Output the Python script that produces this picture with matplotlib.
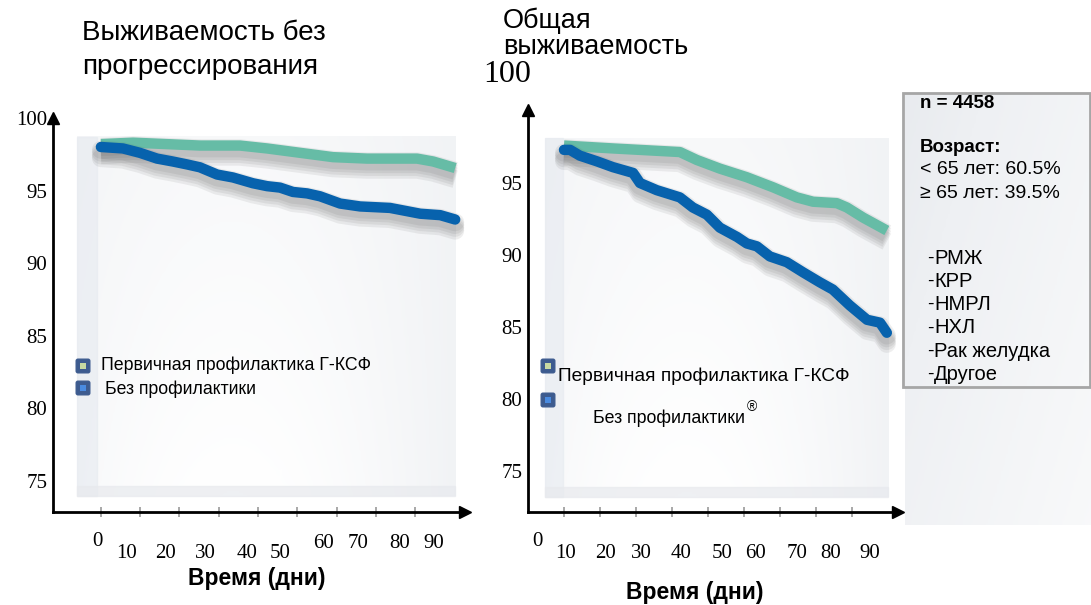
import numpy as np
import matplotlib
matplotlib.use("Agg")
import matplotlib.pyplot as plt
import matplotlib.patheffects as pe
from matplotlib.patches import Rectangle, FancyBboxPatch
from matplotlib.colors import LinearSegmentedColormap

plt.rcParams['font.family'] = ['Liberation Sans', 'DejaVu Sans']
SERIF = ['Liberation Serif', 'DejaVu Serif']

# progression-free survival, %
pfs_days_gcsf = [0, 8.2, 25.2, 35.4, 42.3, 50.7, 59.1, 67.8, 80.5, 84.6, 90.2]
pfs_gcsf = [98.2, 98.3, 98.1, 98.1, 97.9, 97.6, 97.3, 97.2, 97.2, 97.0, 96.55]
pfs_days_none = [0, 5.6, 9.9, 14.3, 18.3, 21.9, 25.2, 29.6, 33.6, 38.7, 42.3,
                 45.6, 48.9, 52.5, 55.8, 60.9, 66.0, 73.6, 81.3, 86.4, 90.2]
pfs_none = [98.0, 97.9, 97.6, 97.2, 97.0, 96.8, 96.6, 96.1, 95.9, 95.5, 95.3,
            95.2, 94.9, 94.8, 94.6, 94.1, 93.9, 93.8, 93.4, 93.3, 93.0]

# overall survival, %
os_days_gcsf = [0, 13.6, 32.2, 36.9, 43.3, 50.8, 58.1, 64.7, 69.2, 75.8, 78.6, 83.1, 89.7]
os_gcsf = [97.6, 97.4, 97.15, 96.6, 96.0, 95.4, 94.7, 94.0, 93.7, 93.6, 93.3, 92.6, 91.7]
os_days_none = [0, 1.7, 4.4, 9.2, 13.6, 19.2, 21.1, 25.8, 32.2, 35.8, 39.7, 43.3,
                48.1, 50.8, 53.6, 57.2, 61.9, 66.4, 71.1, 74.7, 79.4, 84.2, 87.8, 89.7]
os_none = [97.3, 97.3, 96.9, 96.5, 96.1, 95.7, 95.0, 94.5, 94.0, 93.3, 92.8, 91.9,
           91.25, 90.8, 90.6, 89.9, 89.5, 88.8, 88.1, 87.6, 86.5, 85.5, 85.3, 84.6]

pfs_yticks = [100, 95, 90, 85, 80, 75]
os_yticks = [95, 90, 85, 80, 75]
x_ticks = [0, 10, 20, 30, 40, 50, 60, 70, 80]
x_labels = ['0', '10', '20', '30', '40', '50', '60', '70', '80', '90']

legend_gcsf = 'Первичная профилактика Г-КСФ'
legend_none = 'Без профилактики'
info_head = ['n = 4458', 'Возраст:']
info_age = ['< 65 лет: 60.5%', '≥ 65 лет: 39.5%']
tumours = ['РМЖ', 'КРР', 'НМРЛ', 'НХЛ', 'Рак желудка', 'Другое']

TEAL = '#66bca6'
BLUE = '#0762ad'

W, H = 1091, 605
fig = plt.figure(figsize=(W / 100, H / 100), dpi=100)
fig.patch.set_facecolor('white')


def px_layer(z):
    a = fig.add_axes([0, 0, 1, 1], zorder=z)
    a.set_xlim(0, W)
    a.set_ylim(H, 0)
    a.axis('off')
    a.patch.set_alpha(0)
    return a


# pixel-space layers: one below the charts, one above them
bg = px_layer(0)
top = px_layer(10)

glass = LinearSegmentedColormap.from_list('glass', ['#d3d8df', '#eef0f3', '#ffffff'])


def px_axes(x0, y0, x1, y1):
    a = fig.add_axes([x0 / W, 1 - y1 / H, (x1 - x0) / W, (y1 - y0) / H], zorder=2)
    a.patch.set_alpha(0)
    return a


def shadowed():
    return [pe.SimpleLineShadow(offset=(0, -d), shadow_color='#444', alpha=0.085, linewidth=13)
            for d in (2, 4, 6, 8)] + [pe.Normal()]


def panel(ax, x0, x1, y0, y1):
    gx = np.linspace(0, 1, 200)
    gy = np.linspace(0, 1, 200)
    gxx, gyy = np.meshgrid(gx, gy)
    grad = 0.6 + 0.4 * np.clip(np.sin(np.pi * (0.15 + 0.85 * gxx)) * (0.45 + 0.55 * gyy), 0, 1)
    ax.imshow(grad, cmap=glass, vmin=0, vmax=1, extent=[x0, x1, y0, y1],
              aspect='auto', zorder=0, interpolation='bicubic')
    # side and bottom slabs of the pane
    ax.add_patch(Rectangle((x0, y0), 5, y1 - y0, color='#e6eaf0', alpha=0.6, zorder=0.5))
    ax.add_patch(Rectangle((x0, y0), x1 - x0, 0.7, color='#e8eaee', alpha=0.7, zorder=0.5))


def axis_frame(ax, yticks):
    for s in ('top', 'right'):
        ax.spines[s].set_visible(False)
    for s in ('left', 'bottom'):
        ax.spines[s].set_linewidth(2)
        ax.spines[s].set_color('black')
    ax.plot(1, 0, '>', color='black', ms=9, transform=ax.transAxes, clip_on=False)
    ax.plot(0, 1, '^', color='black', ms=9, transform=ax.transAxes, clip_on=False)
    ax.set_yticks(yticks)
    ax.set_yticklabels([str(t) for t in yticks], fontfamily=SERIF, fontsize=15)
    ax.tick_params(axis='y', length=0, pad=4)
    ax.set_xticks(x_ticks)
    ax.set_xticklabels([])
    ax.tick_params(axis='x', length=7, width=1.2, color='#999999', direction='inout')


# left chart: progression-free survival
ax1 = px_axes(53, 118, 465, 512)
ax1.set_xlim(-12.2, 92.7)
ax1.set_ylim(72.83, 100)
panel(ax1, -6.1, 90.2, 73.9, 98.7)
axis_frame(ax1, pfs_yticks)
ax1.plot(pfs_days_gcsf, pfs_gcsf, color=TEAL, lw=7.5, solid_capstyle='butt',
         path_effects=shadowed(), zorder=3)
ax1.plot(pfs_days_none, pfs_none, color=BLUE, lw=7.5, solid_capstyle='round',
         path_effects=shadowed(), zorder=4)
ax1.text(28, 74.8, 'P<.0001', color='white', fontsize=15, style='italic',
         fontfamily=SERIF, alpha=0.9, zorder=1)

# right chart: overall survival
ax2 = px_axes(528, 110, 898, 512)
ax2.set_xlim(-10, 92.8)
ax2.set_ylim(72.15, 100.07)
panel(ax2, -5.3, 90.0, 73.2, 98.1)
axis_frame(ax2, os_yticks)
ax2.plot(os_days_gcsf, os_gcsf, color=TEAL, lw=7.5, solid_capstyle='butt',
         path_effects=shadowed(), zorder=3)
ax2.plot(os_days_none, os_none, color=BLUE, lw=7.5, solid_capstyle='round',
         path_effects=shadowed(), zorder=4)
ax2.text(25, 74.2, 'P=.001', color='white', fontsize=15, style='italic',
         fontfamily=SERIF, alpha=0.9, zorder=1)

# titles
bg.text(82, 33, 'Выживаемость без', fontsize=20, va='center', ha='left')
bg.text(82, 67, 'прогрессирования', fontsize=20, va='center', ha='left')
bg.text(503, 21, 'Общая', fontsize=19.5, va='center', ha='left')
bg.text(503, 47, 'выживаемость', fontsize=19.5, va='center', ha='left')
bg.text(507, 75, '100', fontsize=23, va='center', ha='center', fontfamily=SERIF)

# scattered day labels under the x axes
left_lx = [97, 127, 165, 205, 247, 280, 323, 358, 400, 434]
left_ly = [542, 553, 553, 553, 553, 553, 543, 543, 543, 543]
right_lx = [537, 566, 606, 641, 681, 722, 756, 797, 831, 870]
right_ly = [542, 553, 553, 553, 553, 553, 553, 553, 553, 553]
for lab, x, y in zip(x_labels, left_lx, left_ly):
    bg.text(x, y, lab, fontsize=15, ha='center', va='center', fontfamily=SERIF)
for lab, x, y in zip(x_labels, right_lx, right_ly):
    bg.text(x, y, lab, fontsize=15, ha='center', va='center', fontfamily=SERIF)
bg.text(257, 578, 'Время (дни)', fontsize=16.5, fontweight='bold', ha='center', va='center')
bg.text(695, 592, 'Время (дни)', fontsize=16.5, fontweight='bold', ha='center', va='center')


def legend_box(x, y, inner):
    top.add_patch(FancyBboxPatch((x - 5, y - 5), 10, 10, boxstyle='round,pad=1.8',
                                 fc='#3d5b8f', ec='#3d5b8f', zorder=5))
    top.add_patch(Rectangle((x - 3, y - 3), 6, 6, fc=inner, ec='none', zorder=6))


GREEN_SQ = '#c7d9a2'
BLUE_SQ = '#4a8be0'

# left legend
legend_box(83, 366, GREEN_SQ)
legend_box(83, 388, BLUE_SQ)
top.text(101, 365, legend_gcsf, fontsize=12.8, va='center', ha='left', zorder=6)
top.text(105, 389, legend_none, fontsize=12.7, va='center', ha='left', zorder=6)

# right legend
legend_box(548, 366, GREEN_SQ)
legend_box(548, 400, BLUE_SQ)
top.text(558, 376, legend_gcsf, fontsize=13.8, va='center', ha='left', zorder=6)
top.text(593, 418, legend_none, fontsize=12.8, va='center', ha='left', zorder=6)
top.text(747, 407, '®', fontsize=10, va='center', ha='left', zorder=6)

# study population panel
gy = np.linspace(0, 1, 100)[:, None]
gx = np.linspace(0, 1, 100)[None, :]
bg.imshow(0.4 + 0.4 * (0.6 * gx + 0.4 * gy), cmap=glass, vmin=0, vmax=1,
          extent=[905, W, 525, 93], aspect='auto', zorder=0.5)
bg.add_patch(Rectangle((903, 93), W - 903 - 1, 294, fc='none', ec='#a6a6a6', lw=2, zorder=1))
bg.text(920, 104, info_head[0], fontsize=13.5, fontweight='bold', va='center')
bg.text(920, 148, info_head[1], fontsize=13.5, fontweight='bold', va='center')
for i, s in enumerate(info_age):
    bg.text(920, 170 + i * 23, s, fontsize=14, va='center')
for i, s in enumerate(tumours):
    y = 258 + i * 23.3
    bg.text(927, y, '-', fontsize=14, va='center')
    bg.text(934, y, s, fontsize=14.5, va='center')

fig.savefig('out.png', dpi=100)
